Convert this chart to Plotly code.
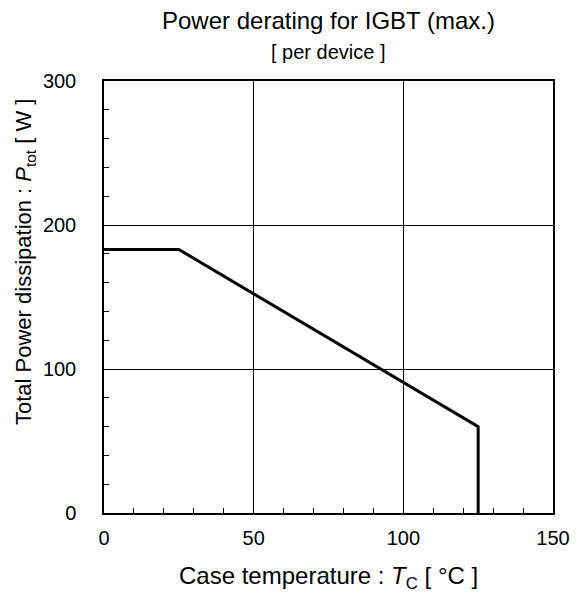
import plotly.graph_objects as go

temp_c = [0, 25, 125, 125]
power_w = [183, 183, 60, 0]
x_ticks = [0, 50, 100, 150]
y_ticks = [0, 100, 200, 300]

FONT = "Liberation Sans, Arial, sans-serif"

fig = go.Figure()
fig.add_trace(go.Scatter(x=temp_c, y=power_w, mode="lines",
                         line=dict(color="black", width=3), showlegend=False))

fig.update_layout(
    width=582, height=597,
    margin=dict(l=104, r=19, t=81, b=84),
    paper_bgcolor="white", plot_bgcolor="white",
    font=dict(family=FONT, size=20, color="black"),
    annotations=[
        dict(text="Power derating for IGBT (max.)", x=0.5, y=1, xref="x domain", yref="paper",
             yanchor="middle", xanchor="center", showarrow=False, font=dict(size=24), yshift=61),
        dict(text="[ per device ]", x=0.5, y=1, xref="x domain", yref="paper",
             yanchor="middle", xanchor="center", showarrow=False, font=dict(size=20), yshift=29),
        dict(text="Case temperature : <i>T</i><sub>C</sub> [ °C ]", x=0.5, y=0,
             xref="x domain", yref="paper", yanchor="middle", xanchor="center",
             showarrow=False, font=dict(size=24), yshift=-64),
        dict(text="Total Power dissipation : <i>P</i><sub>tot</sub> [ W ]", x=0, y=0.581,
             xref="paper", yref="paper", yanchor="middle", xanchor="center", textangle=-90,
             showarrow=False, font=dict(size=22), xshift=-79),
    ],
)
fig.update_xaxes(
    range=[0, 150], tickvals=x_ticks, ticktext=[str(v) for v in x_ticks],
    showgrid=True, gridcolor="black", gridwidth=1,
    showline=True, linecolor="black", linewidth=1.5, mirror=True,
    ticks="inside", ticklen=0, tickfont=dict(size=20),
    minor=dict(dtick=10, ticks="inside", ticklen=5, tickcolor="black", showgrid=False),
    zeroline=False, ticklabelstandoff=6,
)
fig.update_yaxes(
    range=[0, 300], tickvals=y_ticks, ticktext=[str(v) for v in y_ticks],
    showgrid=True, gridcolor="black", gridwidth=1,
    showline=True, linecolor="black", linewidth=1.5, mirror=True,
    ticks="inside", ticklen=0, tickfont=dict(size=20),
    minor=dict(dtick=20, ticks="inside", ticklen=5, tickcolor="black", showgrid=False),
    zeroline=False, ticklabelstandoff=22,
)

fig.write_html("out.html")
